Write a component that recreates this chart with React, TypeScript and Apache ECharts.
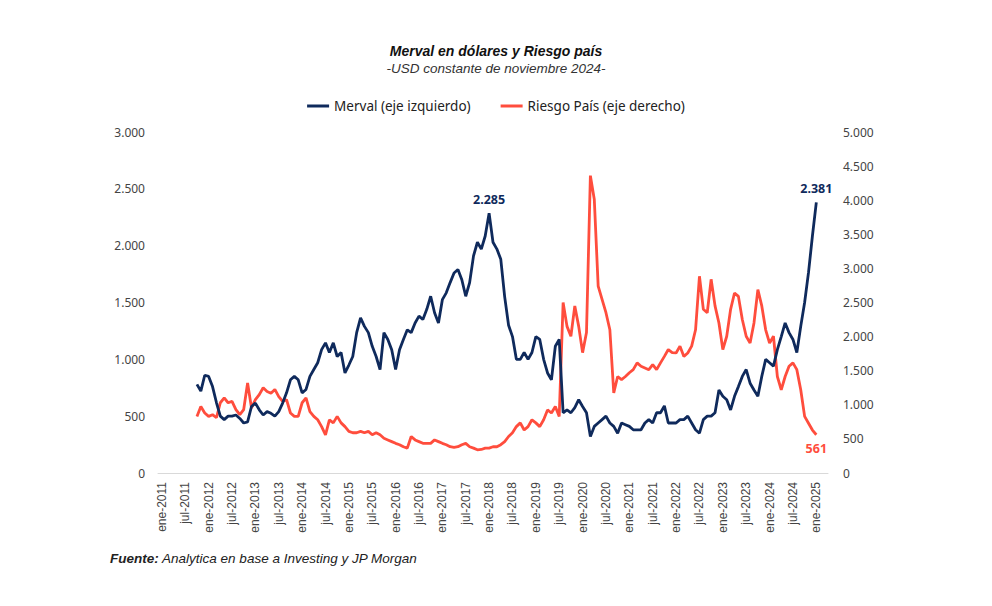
import { useEffect, useRef } from 'react'
import * as echarts from 'echarts'

const MONTHS = ['ene', 'feb', 'mar', 'abr', 'may', 'jun', 'jul', 'ago', 'sep', 'oct', 'nov', 'dic']
const YEARS = [2010, 2011, 2012, 2013, 2014, 2015, 2016, 2017, 2018, 2019, 2020, 2021, 2022, 2023, 2024, 2025]
const AXIS_FIRST = 'dic-2010'
const AXIS_LAST = 'abr-2025'
const DATA_FIRST = 'oct-2011'

// Merval en USD constantes, mensual oct-2011 .. ene-2025 (eje izquierdo)
const merval = [
  780, 720, 860,
  850, 760, 620, 500, 470, 500, 500, 510, 480, 440, 450, 585,
  615, 556, 510, 540, 525, 500, 540, 615, 705, 820, 850, 820,
  705, 735, 850, 910, 970, 1085, 1145, 1060, 1145, 1025, 1060, 880,
  950, 1025, 1235, 1365, 1290, 1235, 1115, 1025, 910, 1235, 1175, 1085,
  910, 1085, 1175, 1260, 1235, 1320, 1380, 1350, 1440, 1555, 1410, 1320,
  1525, 1585, 1675, 1760, 1790, 1700, 1555, 1675, 1910, 2030, 1970, 2085,
  2285, 2030, 1970, 1880, 1550, 1300, 1200, 1000, 1000, 1060, 1000, 1060,
  1200, 1175, 1000, 880, 820, 1115, 1175, 530, 555, 530, 575, 645,
  585, 530, 320, 410, 440, 470, 500, 440, 410, 350, 440, 425,
  410, 380, 380, 380, 440, 470, 440, 530, 530, 590, 440, 440,
  440, 470, 470, 500, 440, 380, 350, 470, 500, 500, 530, 730,
  675, 645, 555, 675, 760, 850, 910, 790, 730, 675, 850, 1000,
  970, 940, 1085, 1200, 1320, 1235, 1175, 1060, 1290, 1500, 1765, 2085,
  2381,
]

// Riesgo País (pb), mensual oct-2011 .. ene-2025 (eje derecho)
const riesgo = [
  830, 975, 880,
  830, 855, 810, 1030, 1100, 1030, 1050, 930, 855, 930, 1320, 955,
  1075, 1150, 1250, 1195, 1170, 1225, 1120, 1050, 1075, 880, 830, 830,
  1030, 1100, 900, 830, 780, 680, 560, 780, 735, 830, 735, 680,
  610, 590, 590, 610, 590, 610, 560, 590, 560, 510, 485, 460,
  435, 415, 385, 365, 535, 485, 460, 435, 435, 435, 485, 460,
  435, 415, 385, 375, 385, 415, 435, 385, 365, 340, 345, 365,
  365, 385, 385, 415, 460, 535, 590, 680, 735, 630, 680, 780,
  735, 680, 780, 925, 880, 975, 830, 2500, 2150, 2005, 2450, 2150,
  1765, 2060, 4360, 4015, 2740, 2545, 2350, 2100, 1175, 1415, 1370, 1415,
  1470, 1515, 1615, 1565, 1540, 1515, 1590, 1515, 1615, 1710, 1810, 1765,
  1760, 1860, 1710, 1760, 1860, 2100, 2885, 2400, 2350, 2840, 2450, 2200,
  1810, 2005, 2400, 2640, 2590, 2250, 2005, 1905, 2200, 2690, 2450, 2100,
  1905, 2005, 1415, 1220, 1415, 1565, 1615, 1515, 1220, 830, 730, 630,
  561,
]

const leftTicks = { min: 0, max: 3000, interval: 500 }
const rightTicks = { min: 0, max: 5000, interval: 500 }

const NAVY = '#0f2a5c'
const RED = '#ff4d3d'

const allMonths = YEARS.flatMap((y) => MONTHS.map((m) => `${m}-${y}`))
const categories = allMonths.slice(allMonths.indexOf(AXIS_FIRST), allMonths.indexOf(AXIS_LAST) + 1)
const offset = categories.indexOf(DATA_FIRST)

const fmt = (v: number) => String(v).replace(/\B(?=(\d{3})+(?!\d))/g, '.')

function buildSeries(values: number[], labels: { index: number; position: 'top' | 'bottom'; color: string }[]) {
  return categories.map((_, i) => {
    const k = i - offset
    if (k < 0 || k >= values.length) return null
    const lab = labels.find((l) => l.index === k)
    if (!lab) return { value: values[k], symbol: 'none' }
    return {
      value: values[k],
      symbol: 'circle',
      symbolSize: 0.1,
      label: {
        show: true,
        position: lab.position,
        distance: 7,
        formatter: fmt(values[k]),
        color: lab.color,
        fontWeight: 'bold',
        fontSize: 12.5,
        fontFamily: 'Noto Sans',
      },
    }
  })
}

export default function App() {
  const ref = useRef<HTMLDivElement>(null)

  useEffect(() => {
    document.body.style.margin = '0'
    if (!ref.current) return
    const chart = echarts.init(ref.current, null, { renderer: 'svg' })

    const peakIdx = merval.indexOf(Math.max(...merval.slice(0, 100)))
    const lastIdx = merval.length - 1

    const option: echarts.EChartsOption = {
      animation: false,
      backgroundColor: '#ffffff',
      title: {
        text: 'Merval en dólares y Riesgo país',
        subtext: '-USD constante de noviembre 2024-',
        left: 'center',
        top: 39,
        itemGap: 3,
        textStyle: {
          fontFamily: 'Liberation Sans',
          fontSize: 14,
          fontWeight: 'bold',
          fontStyle: 'italic',
          color: '#111',
        },
        subtextStyle: {
          fontFamily: 'Liberation Sans',
          fontSize: 13.5,
          fontStyle: 'italic',
          color: '#333',
        },
      },
      legend: {
        top: 94,
        left: 'center',
        icon: 'rect',
        itemWidth: 22,
        itemHeight: 3,
        itemGap: 30,
        textStyle: { fontFamily: 'Noto Sans', fontSize: 13.5, color: '#222' },
        data: ['Merval (eje izquierdo)', 'Riesgo País (eje derecho)'],
      },
      grid: { left: 158, right: 164, top: 132, bottom: 133 },
      xAxis: {
        type: 'category',
        data: categories,
        boundaryGap: false,
        axisLine: { lineStyle: { color: '#d9d9d9', width: 1 } },
        axisTick: { show: false },
        splitLine: { show: false },
        axisLabel: {
          rotate: 90,
          margin: 9,
          fontFamily: 'Liberation Sans',
          fontSize: 12,
          color: '#444',
          interval: (_i: number, value: string) => value.startsWith('ene') || value.startsWith('jul'),
        },
      },
      yAxis: [
        {
          type: 'value',
          ...leftTicks,
          axisLine: { show: false },
          axisTick: { show: false },
          splitLine: { show: false },
          axisLabel: {
            margin: 13,
            fontFamily: 'Noto Sans',
            fontSize: 12,
            color: '#444',
            formatter: (v: number) => fmt(v),
          },
        },
        {
          type: 'value',
          ...rightTicks,
          axisLine: { show: false },
          axisTick: { show: false },
          splitLine: { show: false },
          axisLabel: {
            margin: 15,
            fontFamily: 'Noto Sans',
            fontSize: 12,
            color: '#444',
            formatter: (v: number) => fmt(v),
          },
        },
      ],
      series: [
        {
          name: 'Merval (eje izquierdo)',
          type: 'line',
          yAxisIndex: 0,
          symbol: 'none',
          showSymbol: true,
          showAllSymbol: true,
          data: buildSeries(merval, [
            { index: peakIdx, position: 'top', color: NAVY },
            { index: lastIdx, position: 'top', color: NAVY },
          ]) as any,
          lineStyle: { color: NAVY, width: 2.8 },
          itemStyle: { color: NAVY },
          z: 3,
        },
        {
          name: 'Riesgo País (eje derecho)',
          type: 'line',
          yAxisIndex: 1,
          symbol: 'none',
          showSymbol: true,
          showAllSymbol: true,
          data: buildSeries(riesgo, [{ index: riesgo.length - 1, position: 'bottom', color: RED }]) as any,
          lineStyle: { color: RED, width: 2.8 },
          itemStyle: { color: RED },
          z: 2,
        },
      ],
      graphic: [
        {
          type: 'text',
          left: 110,
          top: 551,
          style: {
            text: '{b|Fuente:} {n|Analytica en base a Investing y JP Morgan}',
            rich: {
              b: { fontFamily: 'Liberation Sans', fontSize: 13.5, fontWeight: 'bold', fontStyle: 'italic', fill: '#222' },
              n: { fontFamily: 'Liberation Sans', fontSize: 13.5, fontStyle: 'italic', fill: '#222' },
            },
          },
        },
      ],
    }

    chart.setOption(option)
    return () => chart.dispose()
  }, [])

  return <div ref={ref} style={{ width: 992, height: 606 }} />
}
